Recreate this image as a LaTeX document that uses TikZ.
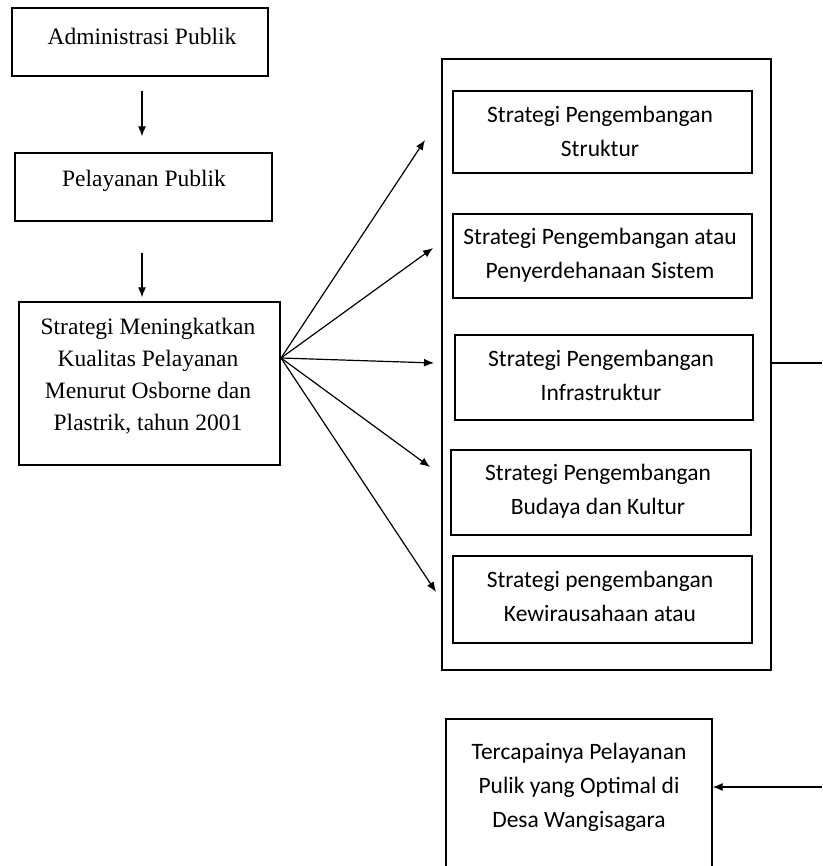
\documentclass[tikz,border=0pt]{standalone}
\usepackage{fontspec}
\setmainfont{Liberation Serif}
\newfontfamily\calfont{Carlito}
\usetikzlibrary{arrows.meta}
\begin{document}
\begin{tikzpicture}[x=1pt,y=-1pt,
  box/.style={draw, line width=1.3pt, inner sep=0pt},
  serif/.style={font=\fontsize{23.5}{32}\selectfont, align=center, inner sep=0pt},
  cal/.style={font=\calfont\fontsize{23.5}{34}\selectfont, align=center, inner sep=0pt},
  arr/.style={line width=1.2pt, -{Latex[length=10pt,width=8pt]}},
  ln/.style={line width=1.2pt}]
\useasboundingbox (0,0) rectangle (822,866);
\clip (0,0) rectangle (822,866);
% left column
\node[box, minimum width=256pt, minimum height=68pt] (A) at (140,42) {};
\node[serif] (At) at (142,36) {Administrasi Publik};
\node[box, minimum width=257pt, minimum height=68pt] (B) at (143.5,187) {};
\node[serif] (Bt) at (144,181) {Pelayanan Publik};
\node[box, minimum width=261pt, minimum height=163pt] (C) at (149.5,383.5) {};
\node[serif] (Ct) at (148,376) {Strategi Meningkatkan\\Kualitas Pelayanan\\Menurut Osborne dan\\Plastrik, tahun 2001};
\draw[arr, shorten <=14pt, shorten >=16pt] (A.south -| 142,0) -- (B.north -| 142,0);
\draw[arr, shorten <=31pt, shorten >=4pt] (B.south -| 142,0) -- (C.north -| 142,0);
% outer container
\node[box, minimum width=329pt, minimum height=611pt] (O) at (606.5,364.5) {};
% inner boxes
\node[box, minimum width=299pt, minimum height=82pt] (S1) at (602.5,132) {};
\node[cal] (S1t) at (600,131) {Strategi Pengembangan\\Struktur};
\node[box, minimum width=299pt, minimum height=84pt] (S2) at (602.5,256) {};
\node[cal] (S2t) at (600,255) {Strategi Pengembangan atau\\Penyerdehanaan Sistem};
\node[box, minimum width=298pt, minimum height=85pt] (S3) at (604,377.5) {};
\node[cal] (S3t) at (601,375) {Strategi Pengembangan\\Infrastruktur};
\node[box, minimum width=300pt, minimum height=85pt] (S4) at (601,492.5) {};
\node[cal] (S4t) at (598,491) {Strategi Pengembangan\\Budaya dan Kultur};
\node[box, minimum width=299pt, minimum height=87pt] (S5) at (602.5,599.5) {};
\node[cal] (S5t) at (600,596) {Strategi pengembangan\\Kewirausahaan atau};
% fan arrows
\coordinate (src) at (281,358);
\coordinate (t1) at (425,140);
\coordinate (t2) at (433,248);
\coordinate (t3) at (434,363);
\coordinate (t4) at (430,467);
\coordinate (t5) at (436,592);
\foreach \t in {t1,t2,t3,t4,t5} \draw[arr] (src) -- (\t);
% result box
\node[box, minimum width=266pt, minimum height=200pt] (D) at (579,819) {};
\node[cal] (Dt) at (579,787) {Tercapainya Pelayanan\\Pulik yang Optimal di\\Desa Wangisagara};
\coordinate (r1) at (822,363);
\coordinate (r2) at (822,787);
\draw[ln] (O.east |- r1) -- (r1);
\draw[arr] (r2) -- (r2 -| D.east);
\end{tikzpicture}
\end{document}
